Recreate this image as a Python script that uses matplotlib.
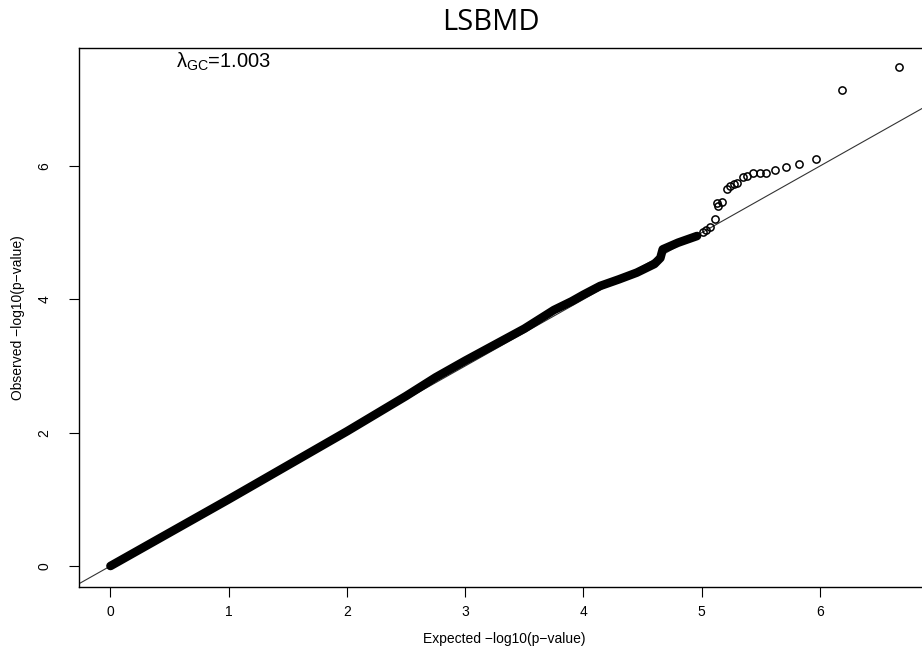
import matplotlib
matplotlib.use("Agg")
import matplotlib.pyplot as plt

# dense part of the QQ curve (expected, observed -log10 p)
band_expected = [0.0, 0.5, 1.0, 1.5, 2.0, 2.5, 2.75, 3.0, 3.25, 3.5, 3.75, 3.9, 4.0,
                 4.14, 4.3, 4.45, 4.6, 4.65, 4.67, 4.8, 4.96]
band_observed = [0.0, 0.5, 1.0, 1.51, 2.02, 2.55, 2.83, 3.08, 3.32, 3.56, 3.84, 3.97, 4.07,
                 4.2, 4.3, 4.4, 4.53, 4.62, 4.75, 4.85, 4.95]

# sparse tail, drawn as single open circles
tail_expected = [5.01, 5.04, 5.07, 5.11, 5.13, 5.14, 5.17, 5.21, 5.24, 5.27, 5.30,
                 5.35, 5.38, 5.43, 5.49, 5.54, 5.62, 5.71, 5.82, 5.97, 6.19, 6.67]
tail_observed = [5.01, 5.04, 5.09, 5.20, 5.44, 5.40, 5.46, 5.65, 5.70, 5.73, 5.74,
                 5.83, 5.85, 5.89, 5.90, 5.90, 5.94, 5.98, 6.03, 6.10, 7.14, 7.48]

x_ticks = [0, 1, 2, 3, 4, 5, 6]
y_ticks = [0, 2, 4, 6]
lambda_gc = "1.003"
trait = "LSBMD"

plt.rcParams["font.family"] = ["Liberation Sans", "DejaVu Sans"]
plt.rcParams["mathtext.fontset"] = "custom"
plt.rcParams["mathtext.rm"] = "Liberation Sans"
plt.rcParams["mathtext.it"] = "Liberation Sans"

fig = plt.figure(figsize=(9.22, 6.62), dpi=100)
ax = fig.add_axes([79 / 922, 75 / 662, 851 / 922, 539 / 662])

ax.axline((0, 0), slope=1, color="#333333", linewidth=0.8, zorder=1)
ax.plot(band_expected, band_observed, color="black", linewidth=6.2,
        solid_capstyle="round", solid_joinstyle="round", zorder=2)
ax.plot(tail_expected, tail_observed, linestyle="none", marker="o", markersize=5.2,
        markerfacecolor="none", markeredgecolor="black", markeredgewidth=1.1, zorder=3)

ax.set_xlim(-0.266, 6.93)
ax.set_ylim(-0.315, 7.77)
ax.set_xticks(x_ticks)
ax.set_yticks(y_ticks)
ax.tick_params(direction="out", length=7, width=0.8, labelsize=10, colors="black")
ax.tick_params(axis="x", pad=6)
ax.tick_params(axis="y", pad=13)
for lbl in ax.get_yticklabels():
    lbl.set_rotation(90)
    lbl.set_va("center")
for spine in ax.spines.values():
    spine.set_linewidth(1.0)
    spine.set_color("black")

ax.set_xlabel("Expected \u2212log10(p\u2212value)", fontsize=10, labelpad=9)
ax.set_ylabel("Observed \u2212log10(p\u2212value)", fontsize=10, labelpad=9)

ax.text(0.55, 7.48, r"$\lambda_{GC}$=" + lambda_gc, fontsize=14.5,
        ha="left", va="baseline")

fig.text(491 / 922, 1 - 23 / 662, trait, fontsize=21, family="Open Sans",
         ha="center", va="center")

fig.savefig("out.png", dpi=100)
